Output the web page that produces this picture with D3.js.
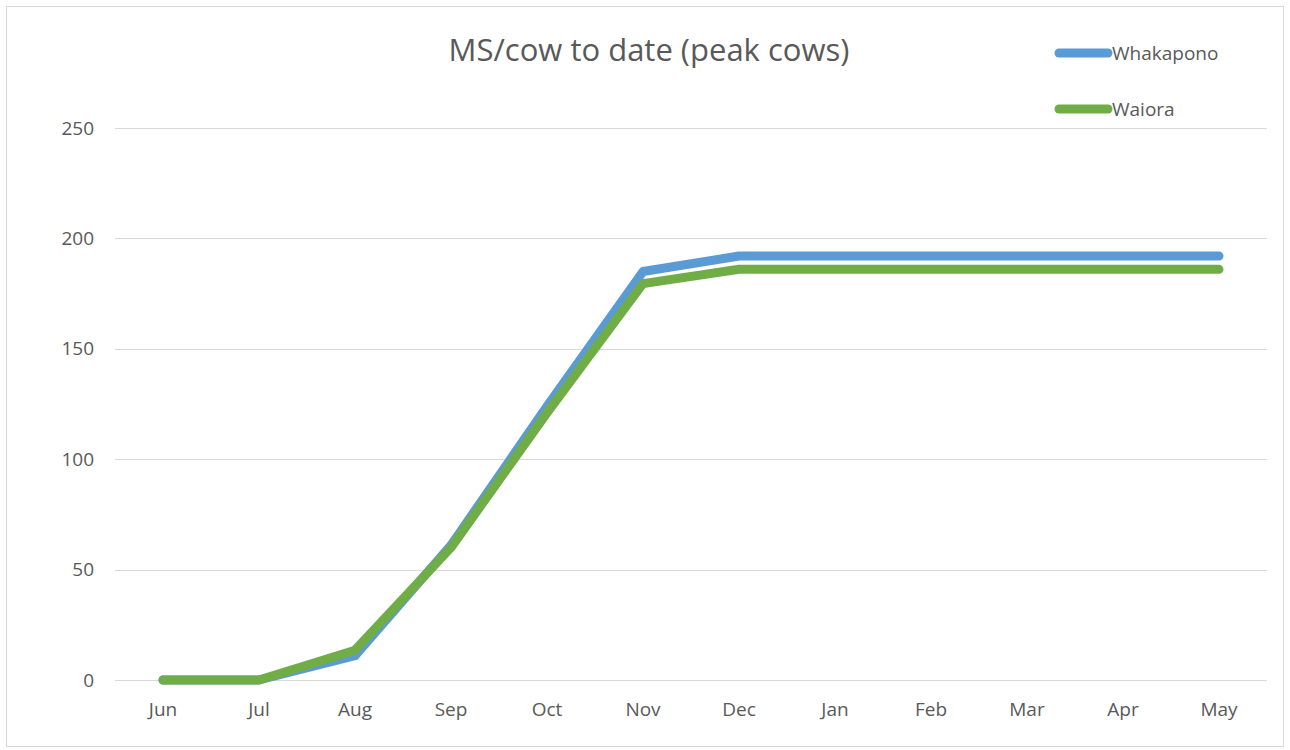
<!DOCTYPE html>
<html>
<head>
<meta charset="utf-8">
<script src="https://cdn.jsdelivr.net/npm/d3@7"></script>
<style>
  body { margin: 0; background: #fff; }
  text { font-family: "Open Sans", "Liberation Sans", sans-serif; fill: #595959; }
</style>
</head>
<body>
<div id="chart"></div>
<script>
const months = ["Jun", "Jul", "Aug", "Sep", "Oct", "Nov", "Dec", "Jan", "Feb", "Mar", "Apr", "May"];
const whakapono = [0, 0, 11, 61, 124, 185, 192, 192, 192, 192, 192, 192];
const waiora = [0, 0, 13.5, 60, 121, 179.5, 186, 186, 186, 186, 186, 186];
const yTicks = [0, 50, 100, 150, 200, 250];
const seriesNames = ["Whakapono", "Waiora"];
const seriesColors = ["#5B9BD5", "#70AD47"];

const W = 1290, H = 750;
const margin = {top: 128, right: 23, bottom: 70, left: 115},
  width = W - margin.left - margin.right,
  height = H - margin.top - margin.bottom;

const svg = d3.select("#chart").append("svg")
  .attr("width", W)
  .attr("height", H);

// outer chart frame
svg.append("rect")
  .attr("x", 6.5).attr("y", 6.5)
  .attr("width", W - 13).attr("height", H - 10)
  .attr("fill", "none")
  .attr("stroke", "#d9d9d9");

const g = svg.append("g")
  .attr("transform", "translate(" + margin.left + "," + margin.top + ")");

const x = d3.scaleBand().domain(months).range([0, width]);
const y = d3.scaleLinear().domain([0, 250]).range([height, 0]);

// gridlines
g.selectAll(".grid")
  .data(yTicks)
  .enter().append("line")
  .attr("x1", 0).attr("x2", width)
  .attr("y1", d => Math.round(y(d)) + 0.5)
  .attr("y2", d => Math.round(y(d)) + 0.5)
  .attr("stroke", "#d9d9d9")
  .attr("stroke-width", 1);

// y labels
g.selectAll(".ylab")
  .data(yTicks)
  .enter().append("text")
  .attr("x", -21)
  .attr("y", d => y(d))
  .attr("dy", "0.35em")
  .attr("text-anchor", "end")
  .style("font-size", "19px")
  .text(d => d);

// x labels
g.selectAll(".xlab")
  .data(months)
  .enter().append("text")
  .attr("x", d => x(d) + x.bandwidth() / 2)
  .attr("y", height + 36)
  .attr("text-anchor", "middle")
  .style("font-size", "19px")
  .text(d => d);

const line = d3.line()
  .x((d, i) => x(months[i]) + x.bandwidth() / 2)
  .y(d => y(d));

[whakapono, waiora].forEach((s, k) => {
  g.append("path")
    .datum(s)
    .attr("d", line)
    .attr("fill", "none")
    .attr("stroke", seriesColors[k])
    .attr("stroke-width", 9)
    .attr("stroke-linecap", "round")
    .attr("stroke-linejoin", "round");
});

// title
svg.append("text")
  .attr("x", 649)
  .attr("y", 61)
  .attr("text-anchor", "middle")
  .style("font-size", "31px")
  .text("MS/cow to date (peak cows)");

// legend
const legend = svg.selectAll(".legend")
  .data(seriesNames)
  .enter().append("g")
  .attr("transform", (d, i) => "translate(1059," + (53 + i * 56) + ")");

legend.append("line")
  .attr("x1", 0).attr("x2", 49)
  .attr("y1", 0).attr("y2", 0)
  .attr("stroke", (d, i) => seriesColors[i])
  .attr("stroke-width", 9)
  .attr("stroke-linecap", "round");

legend.append("text")
  .attr("x", 53)
  .attr("y", 0)
  .attr("dy", "0.35em")
  .style("font-size", "19px")
  .text(d => d);
</script>
</body>
</html>
